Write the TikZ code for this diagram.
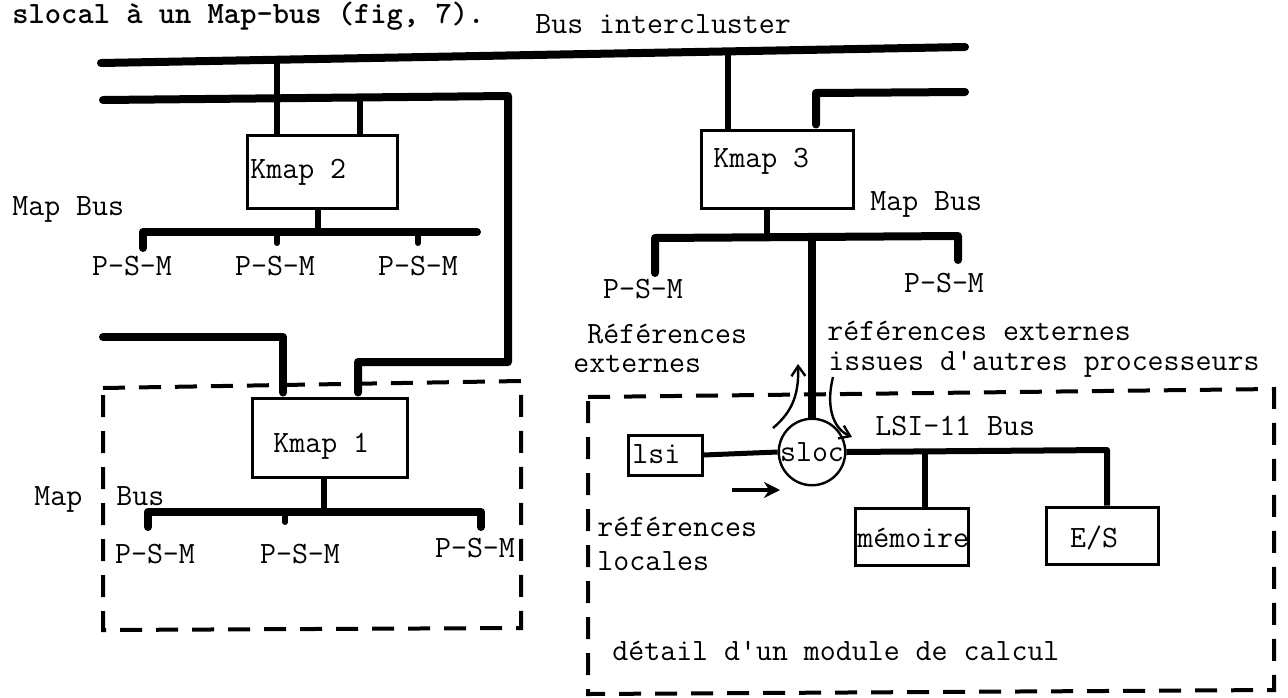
\documentclass[tikz,border=0pt]{standalone}
\usepackage{fontspec}
\usetikzlibrary{arrows.meta}
\begin{document}
\begin{tikzpicture}[x=0.5pt,y=-0.5pt,
  bus/.style={line width=4pt,line cap=round,line join=round},
  conn/.style={line width=3pt},
  box/.style={draw,line width=1.5pt,inner sep=0pt,rectangle},
  dashbox/.style={line width=2pt,dash pattern=on 11pt off 7pt},
  txt/.style={font=\fontsize{15.5pt}{18pt}\selectfont\ttfamily,inner sep=0pt,anchor=base west},
  curvarrow/.style={line width=1.2pt,-{Straight Barb[length=5pt,width=7pt]}},
]
\useasboundingbox (0,0) rectangle (1288,697);
\clip (0,0) rectangle (1288,697);

% boxes
\node[box,minimum width=75pt,minimum height=36.5pt] (k2) at (322,171.5) {};
\node[box,minimum width=76pt,minimum height=39pt] (k3) at (777,169) {};
\node[box,minimum width=77.5pt,minimum height=39.5pt] (k1) at (329.5,437.5) {};
\node[box,minimum width=37pt,minimum height=20pt] (lsi) at (665,455) {};
\node[draw,circle,line width=1.2pt,minimum size=30pt,inner sep=0pt,
      font=\fontsize{15.5pt}{18pt}\selectfont\ttfamily] (sloc) at (812,452) {sloc};
\node[box,minimum width=56.5pt,minimum height=28.5pt] (mem) at (911.5,536.5) {};
\node[box,minimum width=56pt,minimum height=28.5pt] (es) at (1102,535.5) {};

% dashed frames
\draw[dashbox] (103,388) -- (521,381) -- (521,628) -- (103,630) -- cycle;
\draw[dashbox] (588,397) -- (1274,389) -- (1274,690) -- (588,694) -- cycle;

% bus intercluster
\coordinate (ta) at (101,63);
\coordinate (tb) at (965,47);
\draw[bus] (ta) -- (tb);
\coordinate (t2) at (277,60);
\draw[conn] (t2) -- (t2 |- k2.north);
\coordinate (t3k) at (728,51);
\draw[conn] (t3k) -- (t3k |- k3.north);

% second bus (Kmap2 / Kmap1 loop)
\coordinate (b2a) at (103,100);
\coordinate (b2b) at (508,96);
\coordinate (b2c) at (508,362);
\coordinate (b2d) at (358,362);
\draw[bus,shorten >=2pt] (b2a) -- (b2b) -- (b2c) -- (b2d) -- (b2d |- k1.north);
\coordinate (t3) at (360,98);
\draw[conn] (t3) -- (t3 |- k2.north);

% hook to Kmap1
\coordinate (h1) at (103,337);
\coordinate (h2) at (283,337);
\draw[bus,shorten >=2pt] (h1) -- (h2) -- (h2 |- k1.north);

% right bus to Kmap3
\coordinate (r1) at (965,92);
\coordinate (r2) at (816,93);
\draw[bus,shorten >=2pt] (r1) -- (r2) -- (r2 |- k3.north);

% Kmap2 map bus
\coordinate (m2a) at (143,248);
\coordinate (m2b) at (143,232);
\coordinate (m2c) at (477,232);
\draw[bus] (m2a) -- (m2b) -- (m2c);
\coordinate (c2) at (318,232);
\draw[conn] (c2) -- (c2 |- k2.south);
\coordinate (s21) at (277,232); \coordinate (s21e) at (277,243);
\coordinate (s22) at (418,232); \coordinate (s22e) at (418,243);
\draw[conn,line cap=round] (s21) -- (s21e);
\draw[conn,line cap=round] (s22) -- (s22e);

% Kmap3 map bus
\coordinate (m3a) at (655,273);
\coordinate (m3b) at (655,238);
\coordinate (m3c) at (958,236);
\coordinate (m3d) at (958,260);
\draw[bus] (m3a) -- (m3b) -- (m3c) -- (m3d);
\coordinate (c3) at (767,238);
\draw[conn] (c3) -- (c3 |- k3.south);
\coordinate (v3) at (812,238);
\draw[bus,line cap=butt] (v3) -- (sloc.north);

% Kmap1 map bus
\coordinate (m1a) at (148,527);
\coordinate (m1b) at (148,512);
\coordinate (m1c) at (481,512);
\coordinate (m1d) at (481,527);
\draw[bus] (m1a) -- (m1b) -- (m1c) -- (m1d);
\coordinate (c1) at (324,512);
\draw[conn] (c1) -- (c1 |- k1.south);
\coordinate (s11) at (285,512); \coordinate (s11e) at (285,522);
\draw[conn,line cap=round] (s11) -- (s11e);

% LSI-11 bus
\draw[line width=2.5pt] (lsi.east) -- (sloc.west);
\coordinate (lb) at (1107,450);
\coordinate (lm) at (925,450);
\draw[conn,line join=round] (sloc.east) -- (lb) -- (lb |- es.north);
\draw[conn] (lm) -- (lm |- mem.north);

% arrows
\coordinate (a1s) at (773,428); \coordinate (a1e) at (798,364);
\draw[curvarrow] (a1s) .. controls (792,412) and (799,395) .. (a1e);
\coordinate (a2s) at (833,377); \coordinate (a2e) at (852,437);
\draw[curvarrow] (a2s) .. controls (826,405) and (832,428) .. (a2e);
\coordinate (a3s) at (732,490); \coordinate (a3e) at (780,490);
\draw[line width=1.8pt,-{Stealth[length=8pt,width=8pt]}] (a3s) -- (a3e);

% texts
\node[txt,font=\fontsize{15.5pt}{18pt}\selectfont\ttfamily\bfseries] (hdr) at (12,23) {slocal à un Map-bus (fig, 7).};
\node[txt] (bic) at (535,33) {Bus intercluster};
\node[txt] (k2t) at (250,178) {Kmap 2};
\node[txt] (mb2) at (12,215) {Map Bus};
\node[txt,anchor=base] (p21) at (132,275) {P-S-M};
\node[txt,anchor=base] (p22) at (275,275) {P-S-M};
\node[txt,anchor=base] (p23) at (418,275) {P-S-M};
\node[txt] (k3t) at (713,167) {Kmap 3};
\node[txt] (mb3) at (870,210) {Map Bus};
\node[txt,anchor=base] (p31) at (643,298) {P-S-M};
\node[txt,anchor=base] (p32) at (944,292) {P-S-M};
\node[txt] (re1) at (587,343) {Références};
\node[txt] (re2) at (573,372) {externes};
\node[txt] (ri1) at (827,340) {références externes};
\node[txt] (ri2) at (828,370) {issues d'autres processeurs};
\node[txt] (k1t) at (273,452) {Kmap 1};
\node[txt] (mb1a) at (34,505) {Map};
\node[txt] (mb1b) at (116,505) {Bus};
\node[txt,anchor=base] (p11) at (155,563) {P-S-M};
\node[txt,anchor=base] (p12) at (300,563) {P-S-M};
\node[txt,anchor=base] (p13) at (475,557) {P-S-M};
\node[txt] (lsit) at (632,463) {lsi};
\node[txt] (lbt) at (875,435) {LSI-11 Bus};
\node[txt] (memt) at (857,547) {mémoire};
\node[txt,anchor=base] (est) at (1094,547) {E/S};
\node[txt] (rl1) at (597,536) {références};
\node[txt] (rl2) at (597,570) {locales};
\node[txt] (det) at (612,660) {détail d'un module de calcul};
\end{tikzpicture}
\end{document}
